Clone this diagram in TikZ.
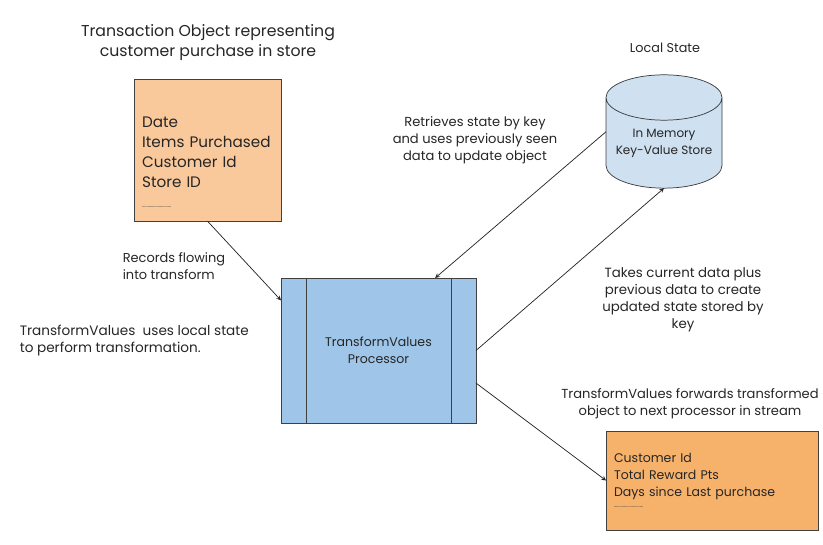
\documentclass[tikz,border=0pt]{standalone}
\usepackage{fontspec}
\usetikzlibrary{shapes.geometric}
\setmainfont{Poppins}
\tikzset{
  every node/.style={text=black!85},
  every path/.style={line width=0.55pt},
  box/.style={rectangle, draw=black!75, outer sep=0pt, inner sep=0pt},
  note/.style={align=center, font=\fontsize{#1}{12.75}\selectfont},
  note/.default=9.6,
  flow/.style={-stealth, black!85}
}
\begin{document}
\begin{tikzpicture}[x=0.75pt, y=-0.75pt]
  \useasboundingbox (0,0) rectangle (823,544);
  \definecolor{purchasefill}{HTML}{F9C89B}
  \definecolor{rewardfill}{HTML}{F6B26B}
  \definecolor{storefill}{HTML}{CFE0F1}
  \definecolor{procfill}{HTML}{9FC5E8}

  \node[box, fill=purchasefill, minimum width=110.25pt, minimum height=106pt, text width=98pt, align=left,
        font=\fontsize{11.4}{15}\selectfont] (purchase) at (207.5,150.5)
        {\mbox{}\\[11pt]Date\\Items Purchased\\Customer Id\\Store ID\\[0pt]{\fontsize{4}{4}\selectfont ..........................}};
  \node[box, fill=procfill, minimum width=18.75pt, minimum height=108.75pt] (procl) at (293.5,350.5) {};
  \node[box, fill=procfill, minimum width=108.75pt, minimum height=108.75pt, note=9.4] (proc) at (378.5,350.5)
        {TransformValues\\Processor};
  \node[box, fill=procfill, minimum width=18.75pt, minimum height=108.75pt] (procr) at (463.5,350.5) {};
  \node[box, fill=rewardfill, minimum width=159pt, minimum height=74.25pt, text width=147pt, align=left,
        font=\fontsize{9.4}{12.6}\selectfont] (reward) at (712,480.5)
        {Customer Id\\Total Reward Pts\\Days since Last purchase\\[-4pt]{\fontsize{4}{4}\selectfont ..........................}};
  \node[cylinder, shape border rotate=90, aspect=0.47, draw=black!75, fill=storefill, cylinder uses custom fill,
        cylinder body fill=storefill, cylinder end fill=storefill, outer sep=0pt, inner sep=0pt,
        minimum width=87pt, minimum height=85pt, note=9] (store) at (664,143)
        {In Memory\\Key-Value Store};

  \node[note=11.8, font=\fontsize{11.8}{15}\selectfont] (title) at (208,43) {Transaction Object representing\\customer purchase in store};
  \node[note] (local) at (665,48) {Local State};
  \node[note=9.8] (retrieves) at (475,140) {Retrieves state by key\\and uses previously seen\\data to update object};
  \node[note=9.7, anchor=west, align=left] (records) at (118,266) {Records flowing\\into transform};
  \node[note=10.2, anchor=west, align=left] (uses) at (15,341) {TransformValues\ \ uses local state\\to perform transformation.};
  \node[note=10] (takes) at (683,300) {Takes current data plus\\previous data to create\\updated state stored by\\key};
  \node[note=9.8] (forwards) at (690,404) {TransformValues forwards transformed\\object to next processor in stream};

  \draw[flow] (purchase.south) -- (procl.104);
  \draw[flow] (store.169) -- (proc.52);
  \draw[flow] (procr.east) -- (store.south);
  \draw[flow] (procr.-69) -- (reward.west);
\end{tikzpicture}
\end{document}
